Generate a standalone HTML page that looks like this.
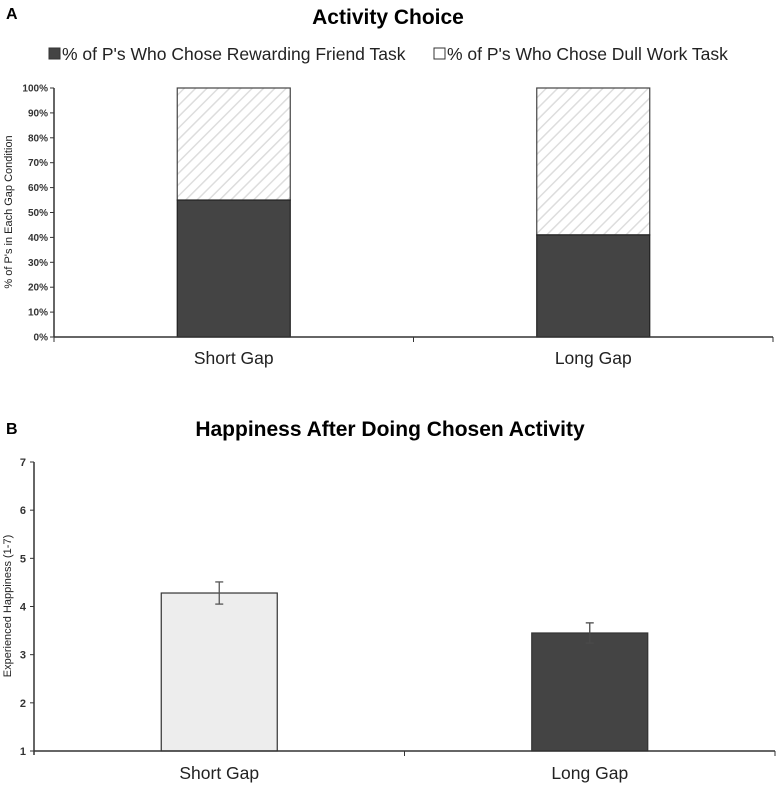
<!DOCTYPE html>
<html><head><meta charset="utf-8"><style>
body{margin:0;background:#fff;font-family:"Liberation Sans",Arial,sans-serif;}
svg text{font-family:"Liberation Sans",Arial,sans-serif;}
</style></head><body>
<svg id="c" width="777" height="784" xmlns="http://www.w3.org/2000/svg">
<defs><pattern id="hatch" width="8" height="8" patternUnits="userSpaceOnUse" patternTransform="rotate(45)">
<rect width="8" height="8" fill="#fff"/><line x1="0" y1="0" x2="0" y2="8" stroke="#ddd" stroke-width="3"/></pattern></defs>
<text x="6" y="19" font-size="16" font-weight="bold">A</text>
<text x="388" y="24" font-size="21" font-weight="bold" text-anchor="middle">Activity Choice</text>
<g>
<rect x="49" y="48" width="11" height="11" fill="#444" stroke="#333"/>
<text x="62" y="60" font-size="17.5" fill="#222">% of P's Who Chose Rewarding Friend Task</text>
<rect x="434" y="48" width="11" height="11" fill="#fff" stroke="#333"/>
<text x="447" y="60" font-size="17.5" fill="#222">% of P's Who Chose Dull Work Task</text>
</g>
<text transform="translate(12,212) rotate(-90)" font-size="11" text-anchor="middle" fill="#222">% of P's in Each Gap Condition</text>
<g id="ga"></g>
<text x="6" y="434" font-size="16" font-weight="bold">B</text>
<text x="390" y="436" font-size="21" font-weight="bold" text-anchor="middle">Happiness After Doing Chosen Activity</text>
<text transform="translate(11,606) rotate(-90)" font-size="11" text-anchor="middle" fill="#222">Experienced Happiness (1-7)</text>
<g id="gb"></g>
</svg>
<script>
const catsA=["Short Gap","Long Gap"];
const friendPct=[55,41];
const ticksA=[0,10,20,30,40,50,60,70,80,90,100];
const catsB=["Short Gap","Long Gap"];
const happy=[4.28,3.45];
const errUp=[0.23,0.21];
const errDn=[0.23,0.21];
const ticksB=[1,2,3,4,5,6,7];
const NS="http://www.w3.org/2000/svg";
function mk(p,t,a){const e=document.createElementNS(NS,t);for(const k in a)e.setAttribute(k,a[k]);p.appendChild(e);return e;}
// Chart A
const ga=document.getElementById('ga');
const ax0=54,ax1=773,ay0=337,ay1=88;
const yA=v=>ay0-(v/100)*(ay0-ay1);
const bandA=(ax1-ax0)/catsA.length;
const xA=i=>ax0+bandA*(i+0.5);
let e;
ticksA.forEach(t=>{
 e=mk(ga,'line',{x1:ax0-4,x2:ax0,y1:yA(t),y2:yA(t),stroke:'#333'});
 
 
 e=mk(ga,'text',{x:ax0-6,y:yA(t)+3.5,'font-size':10,'font-weight':'bold','text-anchor':'end',fill:'#333'});e.textContent=t+'%';
 
 
});
catsA.forEach((c,i)=>{
 const w=113,x=xA(i)-w/2;
 e=mk(ga,'rect',{x:x,y:yA(100),width:w,height:yA(friendPct[i])-yA(100),fill:'url(#hatch)',stroke:'#444','stroke-width':1.2});
 
 
 e=mk(ga,'rect',{x:x,y:yA(friendPct[i]),width:w,height:yA(0)-yA(friendPct[i]),fill:'#444',stroke:'#222','stroke-width':1.2});
 
 
 e=mk(ga,'text',{x:xA(i),y:364,'font-size':17.5,'text-anchor':'middle',fill:'#222'});e.textContent=c;
 
 
});
e=mk(ga,'line',{x1:ax0,x2:ax0,y1:ay1,y2:ay0,stroke:'#333','stroke-width':1.5});


e=mk(ga,'line',{x1:ax0,x2:ax1,y1:ay0,y2:ay0,stroke:'#333','stroke-width':1.5});


for(let i=0;i<=catsA.length;i++){e=mk(ga,'line',{x1:ax0+bandA*i,x2:ax0+bandA*i,y1:ay0,y2:ay0+5,stroke:'#333'});
 
 }
// Chart B
const gb=document.getElementById('gb');
const bx0=34,bx1=775,by0=751,by1=462;
const yB=v=>by0-(v-1)/6*(by0-by1);
const bandB=(bx1-bx0)/catsB.length;
const xB=i=>bx0+bandB*(i+0.5);
const fills=['#ededed','#444'];
const errCol=['#555','#4a4a4a'];
ticksB.forEach(t=>{
 e=mk(gb,'line',{x1:bx0-4,x2:bx0,y1:yB(t),y2:yB(t),stroke:'#333'});
 
 
 e=mk(gb,'text',{x:bx0-8,y:yB(t)+4,'font-size':11,'font-weight':'bold','text-anchor':'end',fill:'#333'});e.textContent=t;
 
 
});
catsB.forEach((c,i)=>{
 const w=116,x=xB(i)-w/2;
 e=mk(gb,'rect',{x:x,y:yB(happy[i]),width:w,height:yB(1)-yB(happy[i]),fill:fills[i],stroke:'#333','stroke-width':1.2});
 
 
 const cx=xB(i);
 const g=mk(gb,'g',{stroke:errCol[i],'stroke-width':1.3});
 
 
 mk(g,'line',{x1:cx,x2:cx,y1:yB(happy[i]+errUp[i]),y2:yB(happy[i]-errDn[i])});
 mk(g,'line',{x1:cx-4,x2:cx+4,y1:yB(happy[i]+errUp[i]),y2:yB(happy[i]+errUp[i])});
 mk(g,'line',{x1:cx-4,x2:cx+4,y1:yB(happy[i]-errDn[i]),y2:yB(happy[i]-errDn[i])});
 e=mk(gb,'text',{x:cx,y:779,'font-size':17.5,'text-anchor':'middle',fill:'#222'});e.textContent=c;
 
 
});
e=mk(gb,'line',{x1:bx0,x2:bx0,y1:by1,y2:by0+4,stroke:'#333','stroke-width':1.5});


e=mk(gb,'line',{x1:bx0,x2:bx1,y1:by0,y2:by0,stroke:'#333','stroke-width':1.5});


for(let i=1;i<=catsB.length;i++){e=mk(gb,'line',{x1:bx0+bandB*i,x2:bx0+bandB*i,y1:by0,y2:by0+5,stroke:'#333'});
 
 }
</script>
</body></html>
